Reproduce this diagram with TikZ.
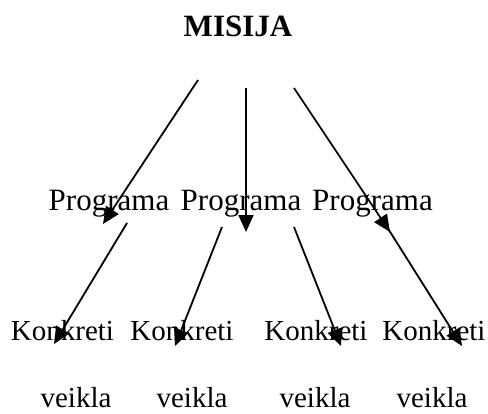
\documentclass[tikz,border=0pt]{standalone}
\usepackage{fontspec}
\setmainfont{Liberation Serif}
\usetikzlibrary{arrows.meta}
\begin{document}
\begin{tikzpicture}[x=1pt,y=-1pt,
  lbl/.style={inner sep=0pt,anchor=base,font=\fontsize{31}{31}\selectfont},
  lblb/.style={inner sep=0pt,anchor=base,font=\fontsize{29}{29}\selectfont},
  conn/.style={line width=1.8pt,-{Triangle[length=17pt,width=15pt]}}]
\useasboundingbox (0,0) rectangle (488,413);
\node[lbl,font=\fontsize{31}{31}\selectfont\bfseries] (mis) at (238,36) {MISIJA};
\node[lbl] (p1) at (109,210) {Programa};
\node[lbl] (p2) at (241,210) {Programa};
\node[lbl] (p3) at (372.5,210) {Programa};
\node[lblb] (k1) at (62.5,340) {Konkreti};
\node[lblb] (k2) at (182,340) {Konkreti};
\node[lblb] (k3) at (316,340) {Konkreti};
\node[lblb] (k4) at (434,340) {Konkreti};
\node[lblb] (v1) at (76,407) {veikla};
\node[lblb] (v2) at (192,407) {veikla};
\node[lblb] (v3) at (315,407) {veikla};
\node[lblb] (v4) at (432,407) {veikla};
% connector end points
\coordinate (m1) at (198,80);
\coordinate (m2) at (246,88);
\coordinate (m3) at (294,88);
\coordinate (t1) at (103,224);
\coordinate (t2) at (246,232);
\coordinate (t3) at (390,232);
\coordinate (s4) at (127,223);
\coordinate (s5) at (222,227);
\coordinate (s6) at (294,227);
\coordinate (s7) at (387,227);
\coordinate (e4) at (54,344);
\coordinate (e5) at (175,346);
\coordinate (e6) at (341,346);
\coordinate (e7) at (462,346);
\draw[conn] (m1) -- (t1);
\draw[conn] (m2) -- (t2);
\draw[conn] (m3) -- (t3);
\draw[conn] (s4) -- (e4);
\draw[conn] (s5) -- (e5);
\draw[conn] (s6) -- (e6);
\draw[conn] (s7) -- (e7);
\end{tikzpicture}
\end{document}
